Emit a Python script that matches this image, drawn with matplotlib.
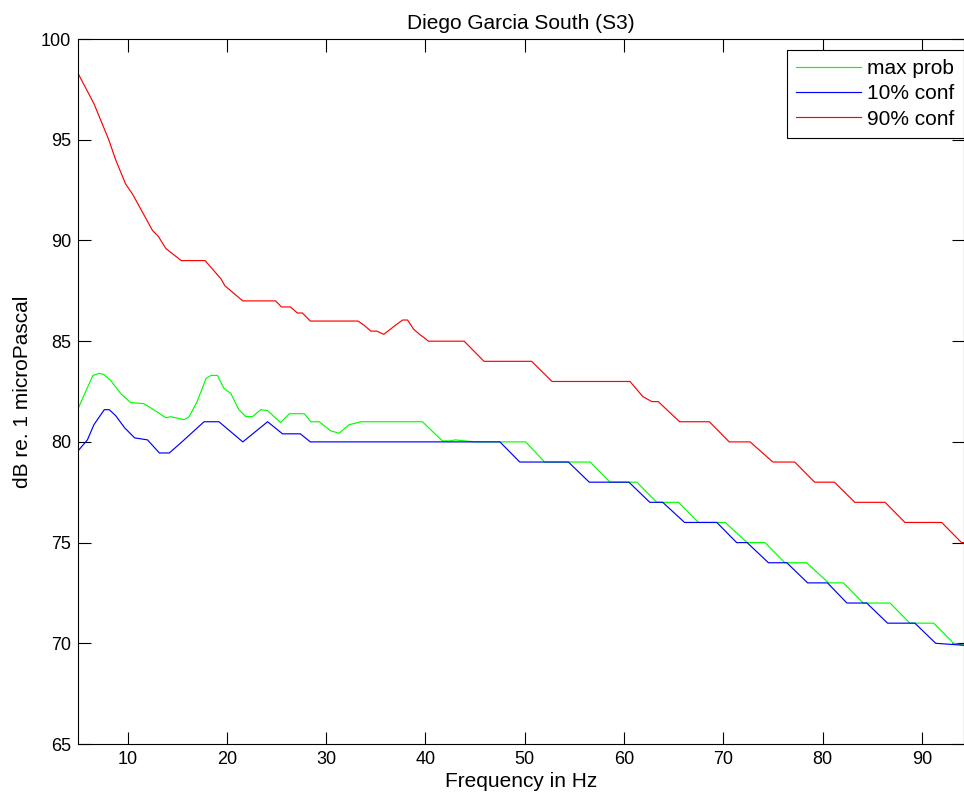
import matplotlib
matplotlib.use('Agg')
import matplotlib.pyplot as plt

# values (frequency in Hz, level in dB)
max_prob_hz = [5.0, 5.1, 6.5, 7.1, 7.6, 8.3, 9.3, 10.3, 11.6, 12.3, 13.85, 14.35, 15.7, 16.2,
               17.0, 17.9, 18.4, 19.05, 19.7, 20.4, 21.2, 21.9, 22.6, 23.4, 24.1, 25.4, 26.3,
               27.8, 28.45, 29.3, 30.45, 31.3, 32.3, 33.5, 39.7, 41.7, 42.5, 43.0, 44.9, 50.1,
               52.0, 56.6, 58.6, 61.3, 63.3, 65.5, 67.5, 70.2, 72.4, 74.2, 76.2, 78.4, 80.6,
               82.1, 84.1, 86.8, 88.8, 91.2, 93.2, 94.3]
max_prob_db = [81.6, 81.75, 83.3, 83.4, 83.35, 83.05, 82.4, 81.95, 81.9, 81.7, 81.2, 81.25, 81.1,
               81.25, 82.0, 83.15, 83.3, 83.3, 82.66, 82.4, 81.6, 81.26, 81.26, 81.6, 81.55, 80.96,
               81.4, 81.4, 81.0, 81.0, 80.55, 80.43, 80.85, 81.0, 81.0, 80.05, 80.05, 80.1, 80.0,
               80.0, 79.0, 79.0, 78.0, 78.0, 77.0, 77.0, 76.0, 76.0, 75.0, 75.0, 74.0, 74.0, 73.0,
               73.0, 72.0, 72.0, 71.0, 71.0, 70.0, 69.9]

conf10_hz = [5.0, 5.95, 6.6, 7.65, 8.15, 8.8, 9.7, 10.7, 12.0, 13.2, 14.2, 15.4, 17.7, 19.2, 21.6,
             24.1, 25.6, 27.4, 28.4, 47.5, 49.5, 54.4, 56.5, 60.5, 62.6, 63.9, 66.1, 69.35, 71.35,
             72.4, 74.55, 76.4, 78.5, 80.5, 82.45, 84.45, 86.55, 89.3, 91.4, 94.3]
conf10_db = [79.55, 80.1, 80.85, 81.6, 81.6, 81.3, 80.7, 80.2, 80.1, 79.45, 79.45, 79.97, 81.0, 81.0,
             80.0, 81.0, 80.4, 80.4, 80.0, 80.0, 79.0, 79.0, 78.0, 78.0, 77.0, 77.0, 76.0, 76.0,
             75.0, 75.0, 74.0, 74.0, 73.0, 73.0, 72.0, 72.0, 71.0, 71.0, 70.0, 69.9]

conf90_hz = [5.0, 6.6, 8.1, 8.8, 9.8, 10.5, 12.5, 13.1, 13.85, 15.4, 17.8, 19.4, 19.8, 21.6, 24.9,
             25.5, 26.4, 27.1, 27.6, 28.4, 33.2, 33.8, 34.5, 35.1, 35.8, 37.0, 37.7, 38.2, 38.8,
             39.5, 39.8, 40.3, 43.9, 45.9, 50.7, 52.75, 60.6, 61.9, 62.8, 63.45, 65.6, 68.6, 70.6,
             72.7, 75.0, 77.2, 79.2, 81.2, 83.25, 86.3, 88.3, 92.0, 94.0, 94.3]
conf90_db = [98.3, 96.8, 95.0, 94.0, 92.8, 92.3, 90.5, 90.2, 89.6, 89.0, 89.0, 88.1, 87.75, 87.0,
             87.0, 86.7, 86.7, 86.4, 86.4, 86.0, 86.0, 85.8, 85.5, 85.5, 85.34, 85.8, 86.05, 86.05,
             85.6, 85.3, 85.2, 85.0, 85.0, 84.0, 84.0, 83.0, 83.0, 82.25, 82.0, 82.0, 81.0, 81.0,
             80.0, 80.0, 79.0, 79.0, 78.0, 78.0, 77.0, 77.0, 76.0, 76.0, 75.0, 75.0]

x_ticks = [10, 20, 30, 40, 50, 60, 70, 80, 90]
y_ticks = [65, 70, 75, 80, 85, 90, 95, 100]

plt.rcParams['font.family'] = ['Liberation Sans', 'DejaVu Sans']
plt.rcParams['font.size'] = 13

fig = plt.figure(figsize=(9.64, 8.02), dpi=100)
ax = fig.add_axes([0.0809, 0.0723, 0.9186, 0.879])

# curves
ax.plot(max_prob_hz, max_prob_db, color=(0, 1, 0), lw=0.85, label='max prob')
ax.plot(conf10_hz, conf10_db, color=(0, 0, 1), lw=0.85, label='10% conf')
ax.plot(conf90_hz, conf90_db, color=(1, 0, 0), lw=0.85, label='90% conf')

# axes, matlab-like
ax.set_xlim(5, 94.2)
ax.set_ylim(65, 100)
ax.set_xticks(x_ticks)
ax.set_yticks(y_ticks)
ax.tick_params(direction='in', length=9, width=0.8, top=True, right=True, pad=5, labelsize=13)
for s in ax.spines.values():
    s.set_linewidth(0.8)

# titles
ax.set_title('Diego Garcia South (S3)', fontsize=15, pad=7)
ax.set_xlabel('Frequency in Hz', fontsize=15, labelpad=3)
ax.set_ylabel('dB re. 1 microPascal', fontsize=15, labelpad=6)

# legend
leg = ax.legend(loc='upper right', bbox_to_anchor=(1.0, 0.985), fancybox=False,
                edgecolor='black', framealpha=1, handlelength=3.1, handletextpad=0.3,
                borderpad=0.45, labelspacing=0.3, fontsize=15, borderaxespad=0.0)
leg.get_frame().set_linewidth(0.8)

fig.savefig('out.png', dpi=100)
